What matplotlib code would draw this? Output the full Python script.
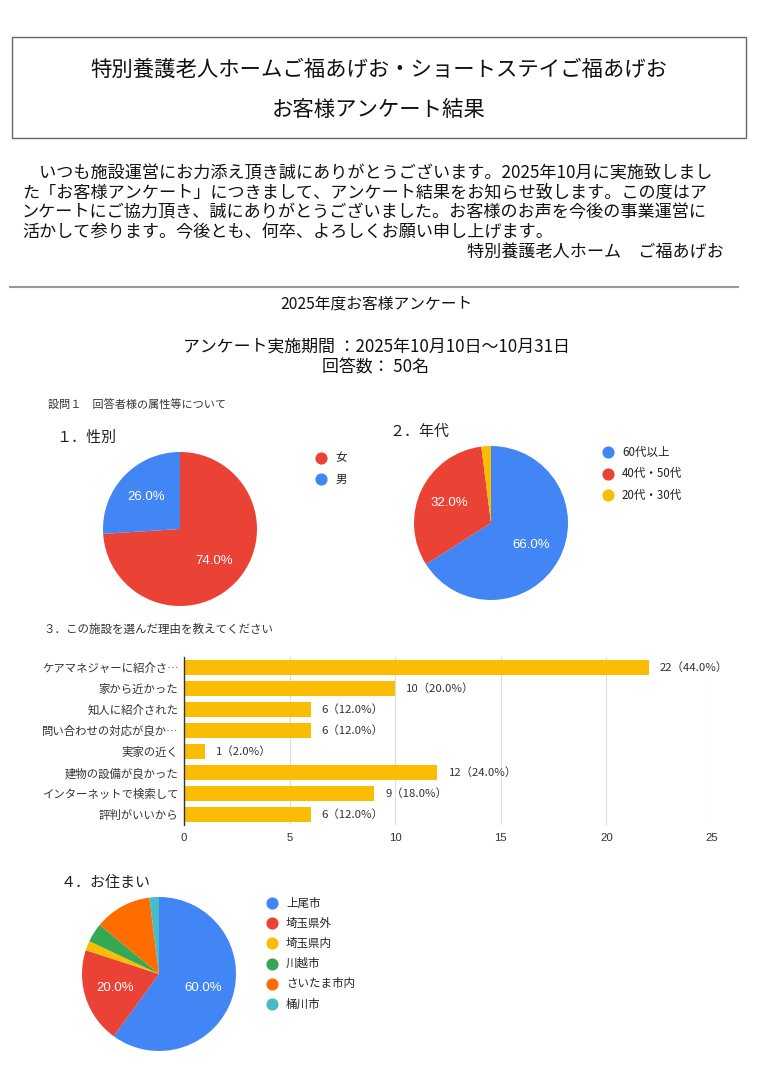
import matplotlib
matplotlib.use("Agg")
import matplotlib.pyplot as plt
from matplotlib.patches import Rectangle
from matplotlib.lines import Line2D

plt.rcParams["font.family"] = ["Noto Sans CJK JP", "DejaVu Sans"]

W, H = 759, 1077

# --- data ---
gender_labels = ["女", "男"]
gender_values = [74, 26]

age_labels = ["60代以上", "40代・50代", "20代・30代"]
age_values = [66, 32, 2]

reason_labels = [
    "ケアマネジャーに紹介さ…",
    "家から近かった",
    "知人に紹介された",
    "問い合わせの対応が良か…",
    "実家の近く",
    "建物の設備が良かった",
    "インターネットで検索して",
    "評判がいいから",
]
reason_counts = [22, 10, 6, 6, 1, 12, 9, 6]
respondents = 50
reason_ticks = [0, 5, 10, 15, 20, 25]

home_labels = ["上尾市", "埼玉県外", "埼玉県内", "川越市", "さいたま市内", "桶川市"]
home_values = [60, 20, 2, 4, 12, 2]

body_lines = [
    "　いつも施設運営にお力添え頂き誠にありがとうございます。2025年10月に実施致しまし",
    "た「お客様アンケート」につきまして、アンケート結果をお知らせ致します。この度はア",
    "ンケートにご協力頂き、誠にありがとうございました。お客様のお声を今後の事業運営に",
    "活かして参ります。今後とも、何卒、よろしくお願い申し上げます。",
]

BLUE = "#4285F4"
RED = "#EA4335"
YELLOW = "#FBBC04"
GREEN = "#34A853"
ORANGE = "#FF6D01"
TEAL = "#46BDC6"


def px_axes(fig, left, top, right, bottom):
    return fig.add_axes([left / W, 1 - bottom / H, (right - left) / W, (bottom - top) / H])


def pct_label(threshold):
    def fmt(p):
        return f"{p:.1f}%" if p >= threshold else ""
    return fmt


def draw_pie(fig, cx, cy, r, values, colors):
    ax = px_axes(fig, cx - r, cy - r, cx + r, cy + r)
    ax.pie(
        values,
        colors=colors,
        startangle=90,
        counterclock=False,
        radius=1.0,
        autopct=pct_label(15),
        pctdistance=0.6,
        textprops={"color": "white", "fontsize": 9.5, "family": "Liberation Sans"},
    )
    ax.set_xlim(-1, 1)
    ax.set_ylim(-1, 1)
    ax.set_aspect("equal")
    return ax


def draw_legend(bg, x, y0, step, labels, colors, size=8.3):
    for i, (lab, col) in enumerate(zip(labels, colors)):
        y = y0 + i * step
        bg.scatter([x], [y], s=60, color=col, zorder=3)
        bg.text(x + 14, y, lab, fontsize=size, color="#222222", va="center", ha="left")


fig = plt.figure(figsize=(W / 100, H / 100), dpi=100)

bg = fig.add_axes([0, 0, 1, 1])
bg.set_xlim(0, W)
bg.set_ylim(H, 0)
bg.axis("off")

# header box
bg.add_patch(Rectangle((12, 37), 734, 101, fill=False, edgecolor="#666666", linewidth=1.0))
bg.text(379, 70, "特別養護老人ホームご福あげお・ショートステイご福あげお",
        fontsize=15.4, ha="center", va="center", color="#111111")
bg.text(379, 110, "お客様アンケート結果", fontsize=15.4, ha="center", va="center",
        color="#111111")

for i, line in enumerate(body_lines):
    bg.text(22, 172 + i * 20, line, fontsize=12.3, ha="left", va="center", color="#111111")
bg.text(724, 253, "特別養護老人ホーム　ご福あげお", fontsize=12.3, ha="right", va="center",
        color="#111111")

bg.add_line(Line2D([10, 738], [287, 287], color="#999999", linewidth=1.5))

bg.text(376, 304, "2025年度お客様アンケート", fontsize=11.3, ha="center", va="center",
        color="#111111")
bg.text(376, 347, "アンケート実施期間 ：2025年10月10日〜10月31日", fontsize=12.2,
        ha="center", va="center", color="#111111")
bg.text(376, 367, "回答数： 50名", fontsize=12.2, ha="center", va="center", color="#111111")

bg.text(48, 405, "設問１　回答者様の属性等について", fontsize=8, ha="left", va="center",
        color="#333333")

# 1. gender
bg.text(56, 438, "１．性別", fontsize=10.8, ha="left", va="center", color="#222222")
draw_pie(fig, 180, 529, 77, gender_values, [RED, BLUE])
draw_legend(bg, 321, 458, 21, gender_labels, [RED, BLUE])

# 2. age
bg.text(390, 432, "２．年代", fontsize=10.8, ha="left", va="center", color="#222222")
draw_pie(fig, 491, 523, 77, age_values, [BLUE, RED, YELLOW])
draw_legend(bg, 608, 452, 21.5, age_labels, [BLUE, RED, YELLOW])

# 3. reasons
bg.text(44, 629, "３．この施設を選んだ理由を教えてください", fontsize=8.3, ha="left",
        va="center", color="#333333")
ax = px_axes(fig, 184, 657, 712, 825)
ypos = list(range(len(reason_counts)))
ax.barh(ypos, reason_counts, height=0.68, color=YELLOW, zorder=3)
for y, v in zip(ypos, reason_counts):
    ax.annotate(f"{v}（{v / respondents * 100:.1f}%）", (v, y), xytext=(8, 0),
                textcoords="offset points", va="center", ha="left", fontsize=8.2,
                color="#333333")
ax.set_xlim(reason_ticks[0], reason_ticks[-1])
ax.set_ylim(len(reason_counts) - 0.5, -0.5)
ax.set_xticks(reason_ticks)
ax.set_xticklabels([str(t) for t in reason_ticks], family="Liberation Sans")
ax.set_yticks(ypos)
ax.set_yticklabels(reason_labels)
ax.tick_params(axis="both", length=0, labelsize=8.2, colors="#333333")
ax.tick_params(axis="x", pad=6)
ax.tick_params(axis="y", pad=4)
ax.grid(axis="x", color="#dddddd", linewidth=0.8, zorder=0)
for side in ["top", "right", "bottom"]:
    ax.spines[side].set_visible(False)
ax.spines["left"].set_color("#333333")
ax.spines["left"].set_linewidth(1.0)
ax.spines["left"].set_zorder(4)

# 4. residence
bg.text(61, 883, "４．お住まい", fontsize=10.8, ha="left", va="center", color="#222222")
draw_pie(fig, 159, 974, 77, home_values, [BLUE, RED, YELLOW, GREEN, ORANGE, TEAL])
draw_legend(bg, 272, 903, 20.2, home_labels, [BLUE, RED, YELLOW, GREEN, ORANGE, TEAL])

fig.savefig("out.png", dpi=100)
